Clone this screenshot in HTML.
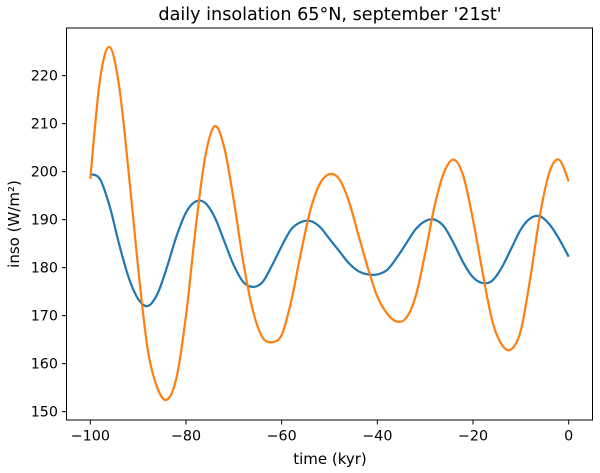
<!DOCTYPE html>
<html><head><meta charset="utf-8"><style>
body{margin:0;background:#fff}
svg{display:block;font-family:"DejaVu Sans","Liberation Sans",sans-serif}
</style></head><body>
<svg id="chart" width="600" height="473" viewBox="0 0 600 473">
<rect width="600" height="473" fill="#fff"/>
<text x="330" y="20" font-size="17.6" text-anchor="middle">daily insolation 65°N, september '21st'</text>
<g id="plot"></g>
<rect x="66.5" y="28" width="526" height="392" fill="none" stroke="#000" stroke-width="1"/>
<text x="330" y="464" font-size="15" text-anchor="middle">time (kyr)</text>
<text transform="translate(19,224) rotate(-90)" font-size="15" text-anchor="middle">inso (W/m²)</text>
</svg>
<script>
const xTicks=[-100,-80,-60,-40,-20,0];
const xTickLabels=['−100','−80','−60','−40','−20','0'];
const yTicks=[150,160,170,180,190,200,210,220];
const times=[];for(let t=-100;t<=0;t+=2)times.push(t);
const seriesBlue=[199.5,198.5,193,185,178,173.5,172,174.5,180,186.5,191.5,193.8,193.5,190.5,185.5,180.5,177,176,177,180.5,184.5,188,189.5,189.7,188.5,186,183.5,181,179.3,178.6,178.6,179.5,182,185,188,189.7,190,188.5,185,181,178,176.8,177.3,180,184,188,190.3,190.7,189,186,182.3];
const seriesOrange=[198.5,219,226,218,200,180,163,155,152.5,157,170,188,203,209.5,205,194,181,171,165.5,164.5,166,173,183,192,197.5,199.5,198.5,194,187,180,174,170.5,168.8,169.5,174,183,193,200,202.5,199,190,179,169,164,163,167,178,191,200,202.5,198];
const X=v=>90.3+(v+100)*4.784;
const Y=v=>411.7-(v-150)*4.8;
const NS='http://www.w3.org/2000/svg';
const g=document.getElementById('plot');
function mk(tag,attrs){const e=document.createElementNS(NS,tag);for(const k in attrs)e.setAttribute(k,attrs[k]);g.appendChild(e);return e;}
xTicks.forEach((v,i)=>{
  const t=mk('line',{x1:X(v),x2:X(v),y1:420,y2:424.5,stroke:'#000'});
  
  
  const l=mk('text',{x:X(v),y:440.5,'font-size':14.3,'text-anchor':'middle'});
  l.textContent=xTickLabels[i];
  
  
});
yTicks.forEach(v=>{
  const t=mk('line',{x1:62,x2:66.5,y1:Y(v),y2:Y(v),stroke:'#000'});
  
  
  const l=mk('text',{x:58,y:Y(v)+5,'font-size':14.3,'text-anchor':'end'});
  l.textContent=v;
  
  
});
function line(vals,color,name){
  const P=vals.map((v,i)=>[X(times[i]),Y(v)]);
  let d='M'+P[0][0].toFixed(1)+','+P[0][1].toFixed(1);
  for(let i=0;i<P.length-1;i++){
    const p0=P[Math.max(i-1,0)],p1=P[i],p2=P[i+1],p3=P[Math.min(i+2,P.length-1)];
    const c1=[p1[0]+(p2[0]-p0[0])/6,p1[1]+(p2[1]-p0[1])/6];
    const c2=[p2[0]-(p3[0]-p1[0])/6,p2[1]-(p3[1]-p1[1])/6];
    d+=' C'+c1.map(n=>n.toFixed(1)).join(',')+' '+c2.map(n=>n.toFixed(1)).join(',')+' '+p2.map(n=>n.toFixed(1)).join(',');
  }
  const p=mk('path',{d:d,fill:'none',stroke:color,'stroke-width':2.2,'stroke-linejoin':'round'});
  
  
}
line(seriesBlue,'#1f77b4','series-blue-line');
line(seriesOrange,'#ff7f0e','series-orange-line');
</script>
</body></html>
